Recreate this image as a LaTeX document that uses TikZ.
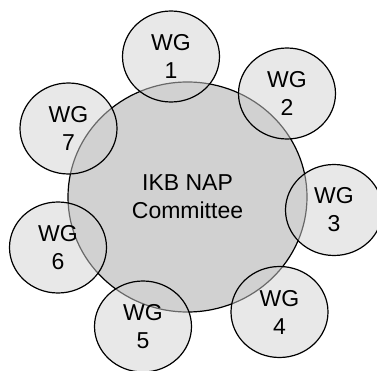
\documentclass[tikz,border=0pt]{standalone}
\usepackage{fontspec}
\setmainfont{Liberation Sans}
\usetikzlibrary{shapes.geometric,positioning}

\tikzset{
  committee/.style={ellipse, draw=black, line width=1.2pt, fill=black!18,
    minimum width=239pt, minimum height=230pt, inner sep=0pt, align=center,
    font=\fontsize{23}{28}\selectfont},
  wgroup/.style={ellipse, draw=black, line width=1.2pt, fill=black!18,
    fill opacity=0.5, draw opacity=1, text opacity=1,
    minimum width=97pt, minimum height=91pt, inner sep=0pt, align=center,
    font=\fontsize{23}{28}\selectfont}
}

\begin{document}
\begin{tikzpicture}[x=1pt,y=1pt]
    \useasboundingbox (0,0) rectangle (377,370);

    % Central committee
    \node[committee] (nap) at (187.5,173) {IKB NAP\\Committee};

    % Working groups around it
    \foreach \n/\x/\y in {1/171/313.5, 2/287/276.5, 3/334/160, 4/279.5/58,
                          5/143/43.5, 6/58/122.5, 7/68.5/241.5}
        \node[wgroup] (wg\n) at (\x,\y) {WG\\\n};
\end{tikzpicture}
\end{document}
